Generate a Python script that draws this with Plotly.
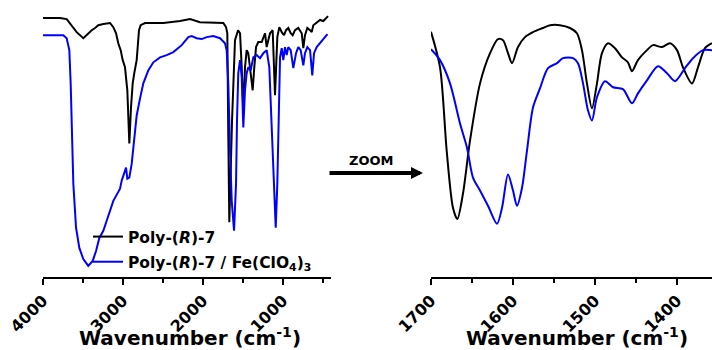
import plotly.graph_objects as go

# ---------------- data (wavenumber cm-1, transmittance a.u.) ----------------
full_wn_black = [4000, 3787, 3704, 3641, 3579, 3496, 3434, 3391, 3350, 3309, 3246, 3162, 3121, 3087,
                 3059, 3029, 3004, 2975, 2946, 2921, 2900, 2879, 2859, 2829, 2800, 2779, 2725, 2496,
                 2287, 2162, 2037, 1871, 1746, 1712, 1696, 1684, 1671, 1637, 1600, 1562, 1537, 1516,
                 1496, 1475, 1454, 1434, 1404, 1379, 1359, 1337, 1309, 1266, 1225, 1204, 1184, 1162,
                 1129, 1100, 1071, 1046, 1016, 987, 962, 934, 904, 879, 850, 809, 766, 746, 725, 696,
                 662, 641, 621, 579, 537, 496, 454, 437]
full_t_black = [93.5, 93.5, 93.1, 90.9, 88.4, 86.2, 88.0, 89.1, 89.9, 90.9, 91.3, 91.7, 90.2, 88.0,
                84.4, 81.9, 78.3, 75.7, 67.4, 48.2, 61.2, 69.9, 73.6, 78.3, 89.1, 90.9, 91.7, 91.7,
                92.4, 93.1, 92.0, 91.7, 91.7, 90.2, 88.0, 51.8, 19.8, 56.5, 85.5, 89.1, 88.0, 75.7,
                60.1, 75.7, 81.9, 80.8, 72.1, 67.4, 75.7, 83.0, 84.8, 84.8, 88.0, 83.0, 85.5, 88.0,
                89.1, 65.6, 86.6, 90.2, 88.4, 87.3, 89.1, 89.9, 88.0, 87.3, 89.1, 89.9, 88.0, 82.6,
                87.3, 89.9, 89.1, 88.4, 90.9, 91.7, 92.8, 92.4, 93.8, 94.2]

full_wn_blue = [4000, 3746, 3704, 3671, 3654, 3641, 3621, 3587, 3546, 3496, 3434, 3379, 3337, 3296,
                3246, 3204, 3162, 3121, 3071, 3037, 3016, 2987, 2962, 2946, 2921, 2891, 2862, 2829,
                2787, 2746, 2684, 2621, 2537, 2454, 2371, 2266, 2184, 2141, 2079, 2016, 1954, 1871,
                1787, 1725, 1704, 1684, 1662, 1641, 1612, 1587, 1575, 1559, 1537, 1516, 1496, 1475,
                1454, 1434, 1404, 1371, 1329, 1287, 1246, 1204, 1171, 1141, 1112, 1091, 1071, 1054,
                1037, 1016, 996, 975, 954, 934, 904, 871, 837, 809, 779, 746, 725, 696, 662, 634,
                612, 579, 537, 496, 462, 444]
full_t_blue = [87.3, 87.3, 86.2, 81.9, 69.9, 51.8, 33.7, 17.8, 10.5, 6.5, 4.0, 5.8, 9.4, 14.1,
               16.7, 20.3, 23.9, 27.5, 30.1, 31.9, 34.8, 37.3, 39.5, 35.5, 35.9, 40.9, 49.3, 58.3,
               64.5, 69.9, 74.6, 77.5, 79.3, 80.1, 81.2, 83.7, 86.6, 87.0, 86.2, 85.9, 86.6, 87.0,
               86.2, 84.4, 81.9, 69.9, 45.7, 27.5, 16.7, 33.7, 56.5, 73.6, 78.3, 72.1, 54.0, 67.4,
               73.6, 75.7, 74.6, 79.3, 80.1, 79.0, 80.8, 81.9, 75.7, 51.8, 27.5, 17.8, 33.7, 63.8,
               79.3, 82.6, 78.3, 83.0, 80.1, 83.0, 81.9, 75.4, 80.8, 83.0, 81.9, 76.4, 80.8, 83.0,
               81.9, 72.8, 80.8, 83.0, 84.4, 85.9, 87.3, 87.7]

zoom_wn_black = [1700, 1689.0, 1680.9, 1673.2, 1667.9, 1661.0, 1652.4, 1640.2, 1628.0, 1618.3,
                 1612.2, 1606.1, 1601.2, 1593.9, 1585.4, 1575.6, 1563.4, 1554.9, 1542.7, 1530.5,
                 1522.0, 1515.9, 1509.8, 1503.7, 1497.6, 1491.5, 1484.1, 1475.6, 1467.1, 1459.8,
                 1454.9, 1447.6, 1436.6, 1429.3, 1418.3, 1408.5, 1400.0, 1392.7, 1381.7, 1374.4,
                 1365.9, 1357.3]
zoom_t_black = [88.5, 75.7, 45.7, 25.0, 20.9, 30.1, 49.3, 69.9, 80.8, 85.9,
                85.5, 80.8, 77.2, 83.0, 86.6, 88.4, 89.9, 90.9, 90.9, 89.9,
                88.0, 81.9, 69.9, 60.9, 69.9, 80.8, 84.4, 82.6, 79.3, 77.5,
                74.3, 78.3, 81.9, 83.7, 83.0, 84.4, 81.9, 75.7, 69.9, 75.7,
                82.6, 84.4]

zoom_wn_blue = [1700, 1689.0, 1676.8, 1664.6, 1656.1, 1648.8, 1640.2, 1630.5, 1619.5, 1613.4,
                1606.1, 1600.0, 1595.1, 1589.0, 1582.9, 1575.6, 1567.1, 1557.3, 1546.3, 1539.0,
                1526.8, 1520.7, 1514.6, 1508.5, 1503.7, 1497.6, 1487.8, 1478.0, 1465.9, 1454.9,
                1447.6, 1436.6, 1423.2, 1412.2, 1402.4, 1390.2, 1380.5, 1368.2, 1357.3]
zoom_t_blue = [82.2, 78.3, 69.9, 55.4, 46.7, 35.9, 31.2, 25.7, 19.2, 25.0,
               37.0, 31.2, 25.7, 32.2, 45.7, 61.2, 68.1, 75.4, 77.2, 79.0,
               79.0, 77.2, 69.9, 60.1, 56.5, 64.9, 70.7, 68.5, 67.8, 62.7,
               66.3, 71.0, 76.1, 73.6, 70.7, 75.4, 79.0, 81.9, 81.9]

left_ticks = [4000, 3000, 2000, 1000]
left_minor = [3500, 2500, 1500, 500]
right_ticks = [1700, 1600, 1500, 1400]
right_minor = [1650, 1550, 1450]

name_black = "Poly-(<i>R</i>)-7"
name_blue = "Poly-(<i>R</i>)-7 / Fe(ClO<sub>4</sub>)<sub>3</sub>"

BLACK = "#000000"
BLUE = "#0000FF"
FONT = "DejaVu Sans, Liberation Sans, Arial, sans-serif"

# ---------------- figure ----------------
W, H = 712, 350
fig = go.Figure()

fig.add_trace(go.Scatter(x=full_wn_black, y=full_t_black, mode="lines", name=name_black,
                         legendgroup="a", line=dict(color=BLACK, width=2), xaxis="x", yaxis="y"))
fig.add_trace(go.Scatter(x=full_wn_blue, y=full_t_blue, mode="lines", name=name_blue,
                         legendgroup="b", line=dict(color=BLUE, width=2), xaxis="x", yaxis="y"))
fig.add_trace(go.Scatter(x=zoom_wn_black, y=zoom_t_black, mode="lines", showlegend=False,
                         line=dict(color=BLACK, width=2, shape="spline", smoothing=0.8),
                         xaxis="x2", yaxis="y2"))
fig.add_trace(go.Scatter(x=zoom_wn_blue, y=zoom_t_blue, mode="lines", showlegend=False,
                         line=dict(color=BLUE, width=2, shape="spline", smoothing=0.8),
                         xaxis="x2", yaxis="y2"))

ybottom = 277
ydom = [(H - ybottom) / H, 1]

common_x = dict(showline=True, linecolor=BLACK, linewidth=2, ticks="outside", ticklen=6,
                tickwidth=2, tickcolor=BLACK, tickangle=-45, showgrid=False, zeroline=False,
                tickfont=dict(family=FONT, size=16, color=BLACK, weight="bold"),
                tickmode="array", automargin=False)

fig.update_layout(
    template="none",
    width=W, height=H,
    margin=dict(l=0, r=0, t=0, b=0, autoexpand=False),
    paper_bgcolor="white", plot_bgcolor="white",
    font=dict(family=FONT, color=BLACK),
    xaxis=dict(domain=[43 / W, 331 / W], range=[4000, 400], anchor="y",
               tickvals=left_ticks, ticktext=[str(v) for v in left_ticks],
               minor=dict(tickvals=left_minor, ticks="outside", ticklen=4, tickwidth=2,
                          tickcolor=BLACK, showgrid=False),
               **common_x),
    yaxis=dict(domain=ydom, range=[0, 100], visible=False, automargin=False),
    xaxis2=dict(domain=[431 / W, 1], range=[1700, 1357.3], anchor="y2",
                tickvals=right_ticks, ticktext=[str(v) for v in right_ticks],
                minor=dict(tickvals=right_minor, ticks="outside", ticklen=4, tickwidth=2,
                           tickcolor=BLACK, showgrid=False),
                **common_x),
    yaxis2=dict(domain=ydom, range=[0, 100], visible=False, automargin=False),
    showlegend=True,
    legend=dict(x=88 / W, y=(H - 220) / H, xanchor="left", yanchor="top",
                bgcolor="rgba(0,0,0,0)", borderwidth=0,
                font=dict(family=FONT, size=15.5, color=BLACK, weight="bold"),
                itemwidth=30, tracegroupgap=2),
)

fig.add_annotation(x=190 / W, y=(H - 337) / H, xref="paper", yref="paper",
                   text="<b>Wavenumber (cm<sup>-1</sup>)</b>", showarrow=False,
                   xanchor="center", yanchor="middle",
                   font=dict(family=FONT, size=20, color=BLACK))
fig.add_annotation(x=577 / W, y=(H - 337) / H, xref="paper", yref="paper",
                   text="<b>Wavenumber (cm<sup>-1</sup>)</b>", showarrow=False,
                   xanchor="center", yanchor="middle",
                   font=dict(family=FONT, size=20, color=BLACK))
fig.add_annotation(x=371 / W, y=(H - 160) / H, xref="paper", yref="paper",
                   text="<b>ZOOM</b>", showarrow=False, xanchor="center", yanchor="middle",
                   font=dict(family=FONT, size=13, color=BLACK))
fig.add_annotation(x=423 / W, y=(H - 173) / H, xref="paper", yref="paper", text="",
                   showarrow=True, ax=-95, ay=0, arrowhead=2, arrowsize=0.6,
                   arrowwidth=4, arrowcolor=BLACK)

fig.write_html("out.html")
